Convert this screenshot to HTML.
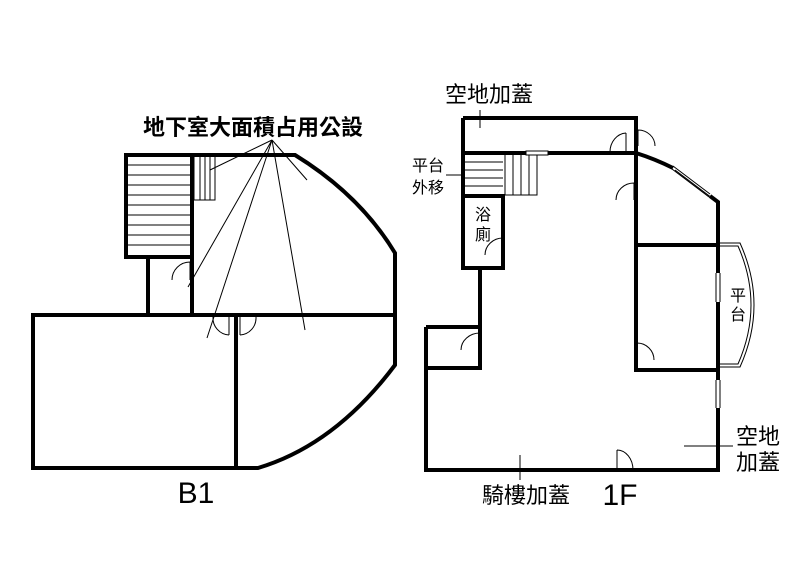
<!DOCTYPE html>
<html><head><meta charset="utf-8"><style>
html,body{margin:0;padding:0;background:#fff;}
svg{display:block;}
text{font-family:"Liberation Sans","Noto Sans CJK TC",sans-serif;fill:#000;}
</style></head><body>
<svg width="800" height="566" viewBox="0 0 800 566" xmlns="http://www.w3.org/2000/svg">
<g fill="none" stroke="#000" stroke-width="4" stroke-linejoin="miter">
<!-- B1 -->
<rect x="126" y="155" width="66" height="102"/>
<path d="M192 155 H295 Q360 195 395 253 V365 Q335 445 258 468 H33 V315 H395"/>
<path d="M148 257 V315 M192 257 V315 M236 315 V468"/>
<!-- 1F -->
<path d="M463 118 H636 V153 M463 118 V268 H503 V196 H463"/>
<path d="M463 153 H636"/>
<path d="M480 268 V368 H426 M426 327 V470 H718 V202 L710 196"/>
<path d="M426 327 H480"/>
<path d="M636 153 Q655 159 673 168"/>
<path d="M636 153 V370 H718 M636 245 H718"/>
</g>
<!-- white gaps for windows -->
<g fill="#fff" stroke="none">
<rect x="714" y="273" width="8" height="29"/>
<rect x="714" y="380" width="8" height="28"/>
<rect x="526" y="150" width="22" height="6"/>
</g>
<g fill="none" stroke="#000" stroke-width="1">
<path d="M128 165H190M128 175H190M128 185H190M128 195H190M128 205H190M128 215H190M128 225H190M128 235H190M128 245H190"/>
<path d="M194 157V200H215V157M200 157V200M205 157V200M210 157V200"/>
<path d="M272 140L210 170M272 140L188 287M272 140L207 338M272 140L305 330M272 140L307 180"/>
<path d="M190 262V280M190 262A18 18 0 0 0 172 280"/>
<path d="M229 317V335M229 335A17 17 0 0 1 213 317"/>
<path d="M240 317V335M240 335A17 17 0 0 0 256 317"/>
<path d="M465 162H503M465 170H503M465 178H503M465 186H503"/>
<path d="M505 155V195H537V155M513 155V195M521 155V195M529 155V195"/>
<path d="M526 151H548V155H526Z"/>
<path d="M673 166L710 194M675 170L712 198M672 169L709 197"/>
<path d="M716 273V302M720 273V302M716 380V408M720 380V408"/>
<path d="M718 243H740Q768 305 740 367H718"/>
<path d="M718 246H738Q764 305 738 364H718"/>
<path d="M480 110V128M446 175H462M684 446H733M520 455V480"/>
<path d="M626 133V152M626 133A17 19 0 0 0 610 152"/>
<path d="M638 130V146M638 130A17 16 0 0 1 655 146"/>
<path d="M634 183V200M634 183A18 17 0 0 0 616 200"/>
<path d="M503 238V255M503 238A18 17 0 0 0 485 255"/>
<path d="M480 333V350M480 333A19 17 0 0 0 461 350"/>
<path d="M637 343V360M637 343A17 17 0 0 1 654 360"/>
<path d="M617 450V470M617 450A16 20 0 0 1 633 470"/>
</g>
<text x="253" y="135" font-size="22" font-weight="bold" text-anchor="middle">地下室大面積占用公設</text>
<text x="196" y="503" font-size="30" text-anchor="middle">B1</text>
<text x="489" y="102" font-size="22" text-anchor="middle">空地加蓋</text>
<text x="428" y="171" font-size="16" text-anchor="middle">平台</text>
<text x="428" y="193" font-size="16" text-anchor="middle">外移</text>
<text x="483" y="220" font-size="16" text-anchor="middle">浴</text>
<text x="483" y="240" font-size="16" text-anchor="middle">廁</text>
<text x="738" y="301" font-size="16" text-anchor="middle">平</text>
<text x="738" y="320" font-size="16" text-anchor="middle">台</text>
<text x="758" y="444" font-size="22" text-anchor="middle">空地</text>
<text x="758" y="470" font-size="22" text-anchor="middle">加蓋</text>
<text x="526" y="503" font-size="22" text-anchor="middle">騎樓加蓋</text>
<text x="620" y="505" font-size="30" text-anchor="middle">1F</text>
</svg>
</body></html>
